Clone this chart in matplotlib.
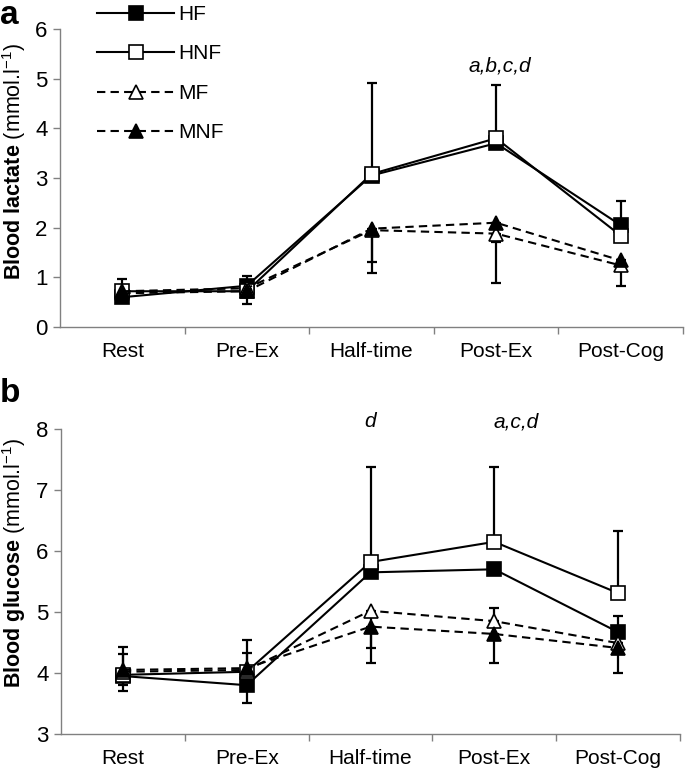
import matplotlib
matplotlib.use("Agg")
import matplotlib.pyplot as plt
import numpy as np

plt.rcParams["font.family"] = ["Liberation Sans", "DejaVu Sans"]
plt.rcParams["mathtext.fontset"] = "custom"
plt.rcParams["mathtext.rm"] = "Liberation Sans"
plt.rcParams["mathtext.bf"] = "Liberation Sans:bold"
plt.rcParams["mathtext.it"] = "Liberation Sans:italic"

# 时间点
stages = ["Rest", "Pre-Ex", "Half-time", "Post-Ex", "Post-Cog"]
groups = ["HF", "HNF", "MF", "MNF"]

# (a) 血乳酸
lac_HF = [0.60, 0.83, 3.05, 3.70, 2.05]
lac_HNF = [0.72, 0.72, 3.08, 3.80, 1.84]
lac_MF = [0.72, 0.78, 1.95, 1.88, 1.24]
lac_MNF = [0.68, 0.72, 1.98, 2.10, 1.34]
lac_up_HF = [0.00, 0.20, 0.00, 0.00, 0.48]
lac_up_HNF = [0.24, 0.00, 1.84, 1.07, 0.00]
lac_dn_MF = [0.00, 0.00, 0.65, 0.17, 0.00]
lac_dn_MNF = [0.00, 0.25, 0.89, 1.22, 0.52]

# (b) 血糖
glu_HF = [3.95, 3.80, 5.65, 5.70, 4.67]
glu_HNF = [3.97, 4.02, 5.82, 6.15, 5.31]
glu_MF = [4.02, 4.05, 5.02, 4.85, 4.49]
glu_MNF = [4.05, 4.08, 4.76, 4.64, 4.41]
glu_up_HF = [0.36, 0.53, 0.00, 0.00, 0.27]
glu_up_HNF = [0.46, 0.52, 1.56, 1.23, 1.02]
glu_up_MF = [0.00, 0.00, 0.00, 0.22, 0.00]
glu_dn_MF = [0.22, 0.00, 0.61, 0.00, 0.00]
glu_dn_MNF = [0.35, 0.57, 0.60, 0.48, 0.41]

styles = {
    "HF": dict(marker="s", mfc="black", ls="-"),
    "HNF": dict(marker="s", mfc="white", ls="-"),
    "MF": dict(marker="^", mfc="white", ls=(0, (4, 2.5))),
    "MNF": dict(marker="^", mfc="black", ls=(0, (4, 2.5))),
}

W, H = 685, 769
fig = plt.figure(figsize=(W / 100, H / 100), dpi=100)


def px_axes(left, right, top, bottom):
    return fig.add_axes([left / W, 1 - bottom / H, (right - left) / W, (bottom - top) / H])


def draw_panel(ax, series, ups, downs, ylim):
    x = np.arange(len(stages))
    for g in groups:
        up = ups.get(g, np.zeros(len(x)))
        dn = downs.get(g, np.zeros(len(x)))
        ax.errorbar(x, series[g], yerr=[dn, up], fmt="none", ecolor="black",
                    elinewidth=1.6, capsize=3.5, capthick=1.6, zorder=2)
    for i, g in enumerate(groups):
        st = styles[g]
        ax.plot(x, series[g], color="black", lw=1.5, ls=st["ls"], marker=st["marker"],
                ms=10.5, mfc=st["mfc"], mec="black", mew=1.2, label=g, zorder=3 + i)
    ax.set_xlim(-0.5, len(stages) - 0.5)
    ax.set_ylim(*ylim)
    ax.set_yticks(np.arange(ylim[0], ylim[1] + 1))
    ax.set_xticks(x)
    ax.set_xticklabels(stages, fontsize=15)
    ax.set_xticks(np.arange(len(stages)) + 0.5, minor=True)
    ax.tick_params(axis="x", which="major", length=0, pad=11)
    ax.tick_params(axis="x", which="minor", length=5, color="#808080", width=1)
    ax.tick_params(axis="y", length=5, color="#808080", width=1, labelsize=16, pad=4)
    for s in ["top", "right"]:
        ax.spines[s].set_visible(False)
    for s in ["left", "bottom"]:
        ax.spines[s].set_color("#808080")
        ax.spines[s].set_linewidth(1)


ax_a = px_axes(60, 683, 29, 327)
draw_panel(ax_a,
           {"HF": lac_HF, "HNF": lac_HNF, "MF": lac_MF, "MNF": lac_MNF},
           {"HF": lac_up_HF, "HNF": lac_up_HNF},
           {"MF": lac_dn_MF, "MNF": lac_dn_MNF},
           (0, 6))
ax_a.text(3.03, 5.26, "a,b,c,d", ha="center", va="center", style="italic", fontsize=15)

ax_b = px_axes(61, 680, 429, 734)
draw_panel(ax_b,
           {"HF": glu_HF, "HNF": glu_HNF, "MF": glu_MF, "MNF": glu_MNF},
           {"HF": glu_up_HF, "HNF": glu_up_HNF, "MF": glu_up_MF},
           {"MF": glu_dn_MF, "MNF": glu_dn_MNF},
           (3, 8))
ax_b.text(2, 8.12, "d", ha="center", va="center", style="italic", fontsize=15)
ax_b.text(2.99, 8.12, "a,c,d", ha="left", va="center", style="italic", fontsize=15)

leg = ax_a.legend(loc="upper left", bbox_to_anchor=(97 / W, 1 - 5 / H),
                  bbox_transform=fig.transFigure, frameon=False, fontsize=15,
                  handlelength=3.7, handletextpad=0.2, labelspacing=0.98,
                  borderpad=0, borderaxespad=0)

fig.text(14 / W, 1 - 161 / H, r"$\mathbf{Blood\ lactate}$ (mmol.l$^{-1}$)",
         rotation=90, ha="center", va="center", fontsize=15.5)
fig.text(14 / W, 1 - 563 / H, r"$\mathbf{Blood\ glucose}$ (mmol.l$^{-1}$)",
         rotation=90, ha="center", va="center", fontsize=15.5)

fig.text(0, 1, "a", fontsize=24, fontweight="bold", ha="left", va="top")
fig.text(0, 1 - 378 / H, "b", fontsize=24, fontweight="bold", ha="left", va="top")

fig.savefig("out.png", dpi=100)
